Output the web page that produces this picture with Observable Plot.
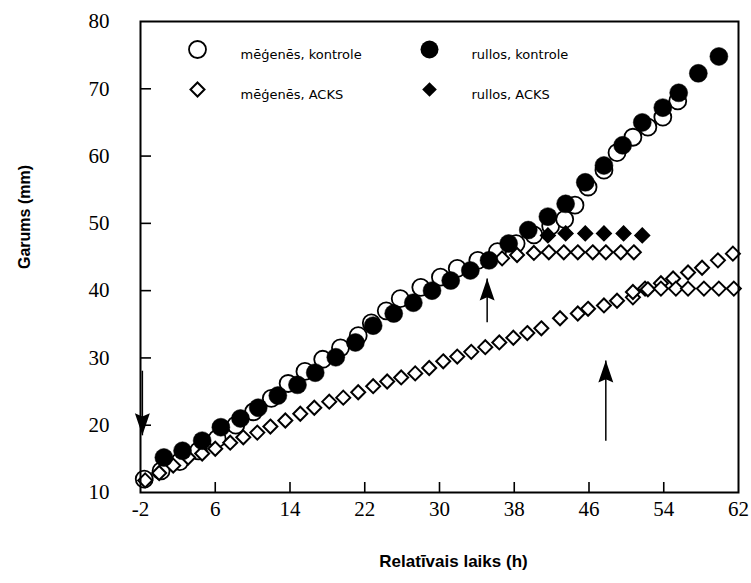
<!DOCTYPE html>
<html><head><meta charset="utf-8">
<script src="https://cdn.jsdelivr.net/npm/d3@7"></script>
<script src="https://cdn.jsdelivr.net/npm/@observablehq/plot@0.6"></script>
<style>body{margin:0;background:#fff}</style>
</head><body><div id="chart"></div>
<script>
// ---- tick labels / titles ----
const xTicks = [-2, 6, 14, 22, 30, 38, 46, 54, 62];
const yTicks = [10, 20, 30, 40, 50, 60, 70, 80];
const xTitle = "Relatīvais laiks (h)";
const yTitle = "Garums (mm)";
const legendLabels = ["mēģenēs, kontrole", "rullos, kontrole", "mēģenēs, ACKS", "rullos, ACKS"];

// ---- mēģenēs, kontrole (open circles) ----
const openCircleX = [-1.6, 0.2, 2.2, 4.2, 6.2, 8.2, 10.1, 12.0, 13.8, 15.6, 17.5, 19.4, 21.3, 22.7, 24.3, 25.8, 28.0, 30.1, 31.9, 34.1, 36.2, 38.2, 40.1, 41.9, 43.4, 44.5, 45.9, 47.6, 49.0, 50.7, 52.3, 53.9, 55.5];
const openCircleY = [12.0, 13.2, 14.6, 16.2, 18.0, 20.0, 22.0, 24.0, 26.2, 28.0, 29.8, 31.5, 33.3, 35.2, 37.0, 38.8, 40.5, 42.0, 43.3, 44.5, 45.8, 47.0, 48.3, 49.6, 50.6, 52.7, 55.4, 57.9, 60.5, 62.8, 64.3, 65.8, 68.2];

// ---- rullos, kontrole (filled circles) ----
const filledCircleX = [0.5, 2.5, 4.6, 6.6, 8.7, 10.6, 12.7, 14.8, 16.7, 18.9, 21.0, 22.9, 25.1, 27.2, 29.2, 31.2, 33.3, 35.3, 37.4, 39.5, 41.6, 43.5, 45.6, 47.6, 49.6, 51.7, 53.9, 55.6, 57.7, 59.9];
const filledCircleY = [15.2, 16.2, 17.7, 19.7, 21.0, 22.6, 24.4, 26.0, 27.8, 30.1, 32.3, 34.8, 36.6, 38.2, 40.0, 41.5, 43.0, 44.5, 47.0, 49.0, 51.0, 52.9, 56.1, 58.6, 61.6, 65.0, 67.2, 69.4, 72.3, 74.8];

// ---- mēģenēs, ACKS (open diamonds) ----
const openDiamondX = [-1.5, 0.0, 1.5, 3.1, 4.6, 6.0, 7.6, 9.0, 10.5, 11.9, 13.5, 15.1, 16.6, 18.2, 19.7, 21.3, 22.9, 24.4, 25.9, 27.4, 28.9, 30.4, 31.9, 33.4, 34.9, 36.4, 37.9, 39.4, 40.9, 42.9, 44.8, 45.9, 47.6, 49.0, 50.7, 52.0, 53.7, 55.0, 56.6, 58.1, 59.8, 61.4];
const openDiamondY = [11.8, 12.9, 14.0, 15.2, 15.8, 16.5, 17.4, 18.2, 18.9, 19.8, 20.7, 21.7, 22.6, 23.5, 24.1, 24.9, 25.8, 26.5, 27.1, 27.7, 28.5, 29.5, 30.2, 30.9, 31.6, 32.3, 33.0, 33.7, 34.4, 35.9, 36.6, 37.3, 37.8, 38.5, 39.0, 40.3, 41.1, 41.8, 42.7, 43.4, 44.5, 45.5];
const openDiamondPlateauX = [50.7, 52.3, 53.7, 55.3, 56.6, 58.3, 59.9, 61.5];
const openDiamondPlateauY = [39.8, 40.2, 40.3, 40.3, 40.3, 40.3, 40.3, 40.3];
const openDiamondUpperX = [36.7, 38.3, 40.1, 41.7, 43.3, 44.8, 46.4, 47.8, 49.4, 50.8];
const openDiamondUpperY = [44.8, 45.3, 45.6, 45.7, 45.7, 45.7, 45.7, 45.7, 45.7, 45.7];

// ---- rullos, ACKS (filled diamonds) ----
const filledDiamondX = [41.6, 43.5, 45.6, 47.6, 49.7, 51.7];
const filledDiamondY = [48.2, 48.5, 48.5, 48.5, 48.5, 48.2];

// ---- arrows (x, tail value, tip value) ----
const arrowX = [-1.8, 35.1, 47.8];
const arrowTail = [28.1, 35.3, 17.7];
const arrowTip = [18.5, 41.8, 29.6];

const pts = (xs, ys) => xs.map((x, i) => ({x, y: ys[i]}));
const openCircles = pts(openCircleX, openCircleY);
const filledCircles = pts(filledCircleX, filledCircleY);
const openDiamonds = [...pts(openDiamondX, openDiamondY), ...pts(openDiamondPlateauX, openDiamondPlateauY), ...pts(openDiamondUpperX, openDiamondUpperY)];
const filledDiamonds = pts(filledDiamondX, filledDiamondY);
const arrows = arrowX.map((x, i) => ({x, tail: arrowTail[i], tip: arrowTip[i], rot: arrowTip[i] < arrowTail[i] ? 180 : 0}));

const arrowHead = {
  draw(context, size) {
    const L = Math.sqrt(size / Math.PI) * 2;
    const w = L * 0.34;
    context.moveTo(0, 0);
    context.lineTo(w, L);
    context.lineTo(0, L * 0.85);
    context.lineTo(-w, L);
    context.closePath();
  }
};

const serif = "'Liberation Serif', 'Times New Roman', serif";
const sans = "'Liberation Sans', Arial, sans-serif";
const legendFont = "'DejaVu Sans', sans-serif";

const chart = Plot.plot({
  width: 751,
  height: 583,
  marginLeft: 140,
  marginRight: 13,
  marginTop: 21,
  marginBottom: 91,
  style: {fontFamily: serif, background: "white", color: "black"},
  x: {domain: [-2, 62]},
  y: {domain: [10, 80]},
  marks: [
    // tick marks (inward)
    Plot.ruleX(xTicks.slice(1, -1), {insetTop: 461, stroke: "black", strokeWidth: 1.6}),
    Plot.ruleY(yTicks.slice(1, -1), {insetRight: 587, stroke: "black", strokeWidth: 1.6}),
    Plot.axisX(xTicks, {tickSize: 0, tickPadding: 9, fontSize: 21, fontFamily: serif, tickFormat: d => String(d), label: null}),
    Plot.axisY(yTicks, {tickSize: 0, tickPadding: 31, fontSize: 21, fontFamily: serif, tickFormat: d => String(d), label: null}),
    // data
    Plot.dot(openCircles, {x: "x", y: "y", r: 8.5, stroke: "black", strokeWidth: 1.8, fill: "white"}),
    Plot.dot(openDiamonds, {x: "x", y: "y", symbol: "diamond2", r: 6.3, stroke: "black", strokeWidth: 2, fill: "white"}),
    Plot.dot(filledCircles, {x: "x", y: "y", r: 9, fill: "black", stroke: "black", strokeWidth: 0.5}),
    Plot.dot(filledDiamonds, {x: "x", y: "y", symbol: "diamond2", r: 6.6, fill: "black", stroke: "black"}),
    // arrows
    Plot.link(arrows, {x1: "x", x2: "x", y1: "tail", y2: "tip", stroke: "black", strokeWidth: 1.5}),
    Plot.dot(arrows, {x: "x", y: "tip", symbol: arrowHead, r: 11, fill: "black", stroke: "none", rotate: "rot"}),
    // legend
    Plot.dot([legendLabels[0]], {frameAnchor: "top-left", dx: 57, dy: 28, r: 8.5, stroke: "black", strokeWidth: 1.8, fill: "white"}),
    Plot.dot([legendLabels[1]], {frameAnchor: "top-left", dx: 289, dy: 28, r: 9, fill: "black"}),
    Plot.dot([legendLabels[2]], {frameAnchor: "top-left", dx: 57, dy: 68, symbol: "diamond2", r: 6.3, stroke: "black", strokeWidth: 2, fill: "white"}),
    Plot.dot([legendLabels[3]], {frameAnchor: "top-left", dx: 289, dy: 68, symbol: "diamond2", r: 6.6, fill: "black"}),
    Plot.text([legendLabels[0]], {frameAnchor: "top-left", dx: 100, dy: 28, text: d => d, textAnchor: "start", fontSize: 13, fontFamily: legendFont}),
    Plot.text([legendLabels[1]], {frameAnchor: "top-left", dx: 331, dy: 28, text: d => d, textAnchor: "start", fontSize: 13, fontFamily: legendFont}),
    Plot.text([legendLabels[2]], {frameAnchor: "top-left", dx: 100, dy: 68, text: d => d, textAnchor: "start", fontSize: 13, fontFamily: legendFont}),
    Plot.text([legendLabels[3]], {frameAnchor: "top-left", dx: 331, dy: 68, text: d => d, textAnchor: "start", fontSize: 13, fontFamily: legendFont}),
    // titles
    Plot.text([xTitle], {frameAnchor: "bottom", dx: 14, dy: 74, text: d => d, fontSize: 17, fontWeight: "bold", fontFamily: sans}),
    Plot.text([yTitle], {frameAnchor: "left", dx: -116, dy: 12, rotate: -90, text: d => d, fontSize: 16, fontWeight: "bold", fontFamily: sans}),
    Plot.frame({stroke: "black", strokeWidth: 2})
  ]
});
document.getElementById("chart").appendChild(chart);
</script>
</body></html>
